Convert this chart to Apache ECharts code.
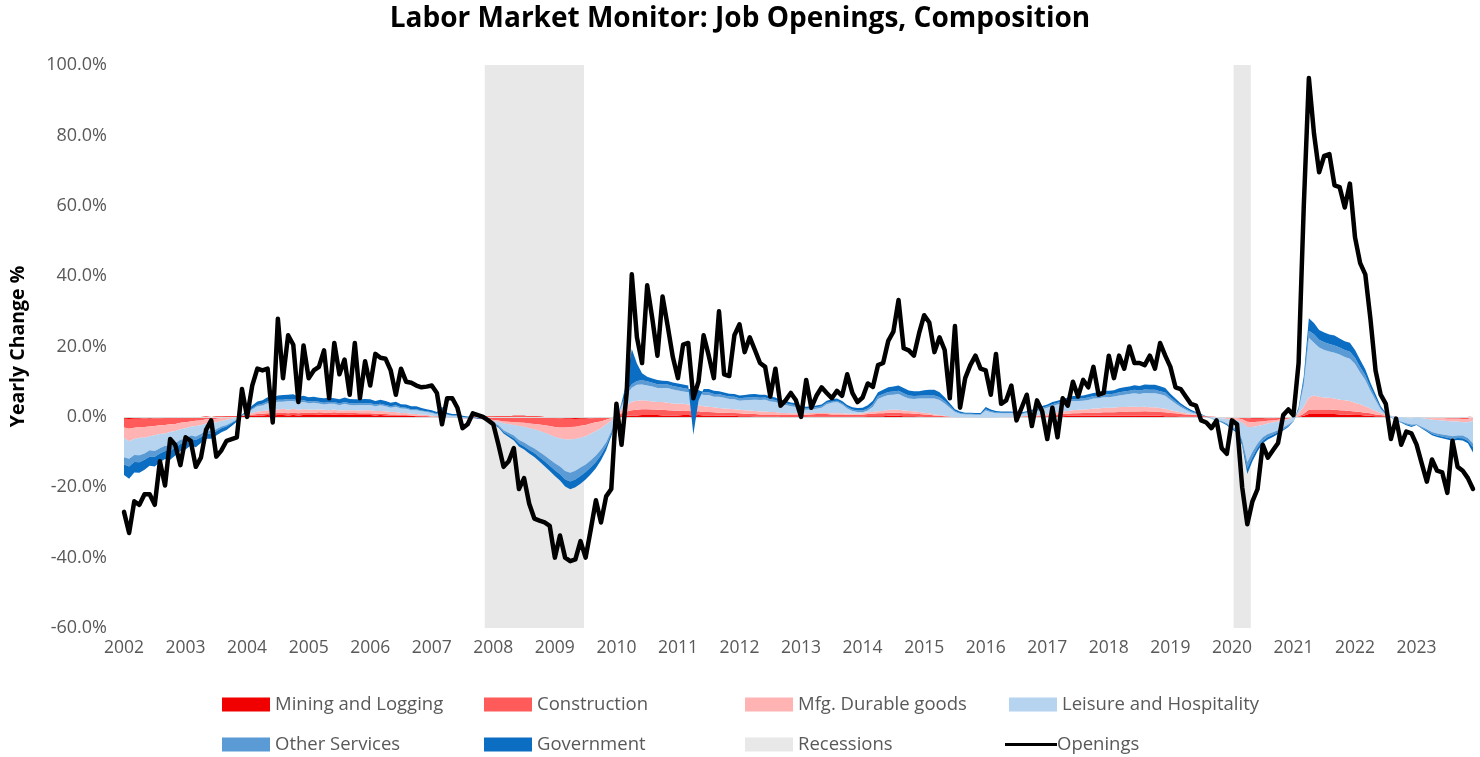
<!DOCTYPE html>
<html><head><meta charset="utf-8">
<script src="https://cdn.jsdelivr.net/npm/echarts@6/dist/echarts.min.js"></script>
<style>html,body{margin:0;padding:0;background:#fff}#c{width:1480px;height:757px}</style>
</head><body><div id="c"></div>
<script>
// ---------- DATA (monthly, Jan 2002 .. Dec 2023, yearly change %) ----------
const yearLabels = ['2002','2003','2004','2005','2006','2007','2008','2009','2010','2011','2012','2013','2014','2015','2016','2017','2018','2019','2020','2021','2022','2023'];
const monthLabels = ['01','02','03','04','05','06','07','08','09','10','11','12'];
const recessions = [['2007-12','2009-06'],['2020-02','2020-04']];

const openings = [
 [-27,-33,-24,-25,-22,-22,-25,-12.6,-19.5,-6.3,-8,-13.7],
 [-5.8,-6.8,-14.2,-11.6,-3.7,-1,-11.3,-9.5,-6.8,-6.3,-5.8,7.9],
 [0,8.9,13.7,13.2,13.7,-1.6,27.9,11,23.2,20.5,4.2,20.3],
 [11,13.2,14.2,18.9,5.3,21,12.1,16.3,6.3,21,5.3,15.8],
 [8.9,17.9,16.8,16.5,13.2,6.3,13.7,10,9.7,8.9,8.4,8.6],
 [8.9,6.8,-2.1,5.3,5.3,2.6,-3.2,-2.1,1,0.5,0,-1],
 [-2.1,-7.9,-14.2,-12.6,-8.9,-20.5,-17.4,-24.7,-28.9,-29.5,-30,-31],
 [-40,-33.7,-40,-41,-40.5,-35.3,-40,-32,-23.7,-30,-22.6,-20.5],
 [3.7,-7.9,6.8,40.5,22.6,15.3,37.4,27.9,17.4,34.2,25.8,17],
 [11,20.5,21,5.3,10,23.2,17.4,11,30,12.1,11.6,23.2],
 [26.3,18.4,22.6,19,15.3,14.2,5.8,13.7,3.2,4.7,6.8,4.7],
 [0,10.5,2.6,6,8.4,6.8,5.3,7.4,6,12.1,6.8,4.2],
 [5.5,9.5,8.5,14.7,15.3,21.6,24.2,33.2,19.5,18.9,17.4,23.7],
 [28.9,26.8,18.4,22.6,19,5.3,25.8,2.6,11,14.7,17.4,13.7],
 [13.2,6.3,17.9,3.7,4.7,8.9,-1,2.6,6.3,-2.6,4.7,1.6],
 [-6.3,2.6,-5.8,5.3,3.2,10,5.8,10.5,8.4,14.2,6.3,6.8],
 [17.4,11,17.4,13.7,20,15.3,15.3,14.7,17.4,13.7,21,17.4],
 [14.2,8.4,7.9,5.8,3.7,3.2,-1,-1.6,-3.2,-1,-8.9,-10.5],
 [-1,-2.1,-20,-30.5,-24,-20.5,-7.9,-11.6,-9.5,-7.4,0.5,2.1],
 [0.5,15.3,59.5,96.3,80.5,69.5,74.2,74.7,65.8,65.3,59.5,66.3],
 [51,43.7,40.5,27.9,13.2,6.3,3.7,-6.3,-0.5,-7.9,-4.2,-4.7],
 [-7.9,-13.2,-18.4,-12.1,-15.3,-15.8,-21.6,-6.8,-14.2,-15.3,-17.4,-20.5]
];

const mining = [
 [-0.5,-0.6,-0.5,-0.5,-0.4,-0.5,-0.4,-0.4,-0.3,-0.3,-0.3,-0.2],
 [-0.2,-0.1,-0.1,0,0.1,0,0.1,0.1,0.2,0.2,0.2,0.3],
 [0.3,0.3,0.4,0.4,0.5,0.4,0.5,0.5,0.4,0.5,0.4,0.5],
 [0.5,0.5,0.6,0.5,0.5,0.6,0.5,0.5,0.6,0.5,0.5,0.5],
 [0.5,0.4,0.5,0.4,0.4,0.4,0.3,0.3,0.3,0.2,0.2,0.2],
 [0.1,0.1,0.1,0,0,0.1,0,0,0.1,0.1,0.1,0.1],
 [0.1,0.2,0.2,0.2,0.3,0.3,0.3,0.2,0.2,0.1,0,-0.1],
 [-0.3,-0.4,-0.5,-0.5,-0.6,-0.5,-0.5,-0.4,-0.3,-0.3,-0.2,-0.1],
 [0.1,0.2,0.3,0.4,0.4,0.5,0.5,0.5,0.5,0.4,0.4,0.4],
 [0.4,0.5,0.5,0.4,0.5,0.4,0.4,0.4,0.3,0.3,0.3,0.3],
 [0.2,0.2,0.2,0.1,0.1,0.1,0.1,0.1,0,0,0,0],
 [0,0,0.1,0.1,0.1,0.1,0.1,0.1,0.1,0.1,0.1,0.1],
 [0.1,0.2,0.2,0.2,0.2,0.3,0.3,0.3,0.2,0.2,0.2,0.1],
 [0,-0.1,-0.2,-0.3,-0.3,-0.3,-0.3,-0.3,-0.3,-0.3,-0.3,-0.3],
 [-0.3,-0.3,-0.3,-0.2,-0.2,-0.2,-0.1,-0.1,0,0,0,0.1],
 [0.1,0.2,0.2,0.2,0.3,0.3,0.3,0.3,0.3,0.3,0.3,0.3],
 [0.3,0.3,0.3,0.3,0.3,0.3,0.3,0.3,0.3,0.3,0.3,0.2],
 [0.2,0.2,0.1,0.1,0.1,0.1,0,0,0,0,0,-0.1],
 [-0.1,-0.1,-0.2,-0.4,-0.5,-0.5,-0.5,-0.4,-0.4,-0.3,-0.3,-0.2],
 [-0.1,0,0.3,0.8,0.8,0.8,0.8,0.8,0.8,0.7,0.7,0.6],
 [0.5,0.5,0.4,0.3,0.2,0.2,0.1,0.1,0,0,0,0],
 [0,0,0,-0.1,-0.1,-0.1,-0.1,-0.1,-0.1,-0.1,-0.1,0.3]
];

const construction = [
 [-2.5,-2.8,-2.6,-2.4,-2.5,-2.2,-2.2,-2,-2,-1.8,-1.7,-1.5],
 [-1.3,-1.2,-1,-1,-0.8,-0.8,-0.6,-0.5,-0.4,-0.3,-0.2,0],
 [0.2,0.3,0.4,0.5,0.5,0.6,0.6,0.7,0.6,0.7,0.6,0.7],
 [0.7,0.6,0.7,0.7,0.6,0.7,0.6,0.6,0.5,0.6,0.5,0.5],
 [0.5,0.5,0.4,0.4,0.3,0.3,0.2,0.2,0.1,0.1,0,0],
 [-0.1,-0.2,-0.2,-0.3,-0.3,-0.4,-0.4,-0.5,-0.5,-0.6,-0.7,-0.8],
 [-1,-1.2,-1.5,-1.6,-1.8,-1.9,-2,-2.1,-2.2,-2.3,-2.4,-2.5],
 [-2.6,-2.6,-2.5,-2.4,-2.2,-2,-1.8,-1.5,-1.2,-1,-0.6,-0.2],
 [0.3,0.8,1.2,1.5,1.6,1.7,1.7,1.6,1.5,1.6,1.5,1.4],
 [1.3,1.3,1.2,1.2,1.1,1,1,0.9,0.9,0.9,0.8,0.8],
 [0.8,0.7,0.7,0.7,0.6,0.6,0.6,0.6,0.5,0.5,0.5,0.5],
 [0.5,0.6,0.6,0.7,0.7,0.7,0.6,0.6,0.6,0.5,0.5,0.5],
 [0.5,0.6,0.7,0.8,0.8,0.9,0.9,0.9,0.8,0.8,0.7,0.7],
 [0.7,0.7,0.6,0.6,0.5,0.4,0.3,0.3,0.3,0.3,0.3,0.3],
 [0.3,0.3,0.3,0.3,0.3,0.2,0.2,0.2,0.2,0.2,0.2,0.3],
 [0.3,0.4,0.5,0.6,0.6,0.7,0.7,0.8,0.8,0.9,0.9,1],
 [1,1,1.1,1.1,1.2,1.2,1.2,1.3,1.2,1.2,1.1,1.1],
 [0.9,0.8,0.7,0.6,0.5,0.4,0.3,0.2,0.1,0,-0.1,-0.1],
 [-0.2,-0.3,-0.5,-1,-1,-0.9,-0.8,-0.7,-0.6,-0.5,-0.4,-0.3],
 [-0.1,0.2,0.6,1.2,1.3,1.3,1.3,1.3,1.2,1.2,1.1,1.1],
 [1,0.9,0.8,0.7,0.5,0.3,0.2,0.1,0,0,-0.1,-0.1],
 [0,-0.1,-0.2,-0.3,-0.3,-0.3,-0.4,-0.4,-0.4,-0.5,-0.5,-0.4]
];

const durables = [
 [-3,-3.5,-3.2,-3,-3,-2.8,-2.6,-2.5,-2.4,-2.2,-2,-1.8],
 [-1.7,-1.5,-1.5,-1.4,-1.2,-1,-1,-0.8,-0.6,-0.4,-0.2,0],
 [0.3,0.5,0.7,0.8,0.9,1,1,1.1,1,1.1,1,1],
 [0.9,0.9,0.8,0.8,0.8,0.8,0.7,0.8,0.8,0.8,0.8,0.9],
 [0.9,0.8,0.8,0.8,0.7,0.7,0.6,0.6,0.5,0.5,0.4,0.4],
 [0.3,0.2,0.2,0.1,0.1,0,0,0,0,-0.1,-0.1,-0.2],
 [-0.3,-0.4,-0.5,-0.7,-0.8,-1,-1.1,-1.3,-1.5,-1.8,-2.1,-2.5],
 [-2.8,-3.1,-3.4,-3.5,-3.5,-3.4,-3.2,-2.9,-2.5,-2,-1.4,-0.8],
 [0.2,1,1.8,2.4,2.6,2.5,2.4,2.3,2.2,2.2,2.1,2],
 [2,1.9,1.8,1.8,1.7,1.6,1.5,1.4,1.3,1.2,1.2,1.1],
 [1,1,0.9,0.9,0.8,0.8,0.7,0.7,0.6,0.6,0.5,0.5],
 [0.4,0.4,0.4,0.3,0.3,0.3,0.3,0.3,0.3,0.3,0.3,0.3],
 [0.4,0.5,0.5,0.6,0.7,0.8,0.8,0.8,0.8,0.7,0.7,0.6],
 [0.5,0.4,0.3,0.2,0.1,0,-0.1,-0.1,-0.1,-0.1,-0.2,-0.2],
 [-0.2,-0.2,-0.2,-0.1,-0.1,0,0,0,0.1,0.1,0.2,0.3],
 [0.4,0.5,0.6,0.7,0.8,0.9,1,1,1.1,1.2,1.2,1.3],
 [1.3,1.3,1.4,1.4,1.4,1.4,1.3,1.3,1.2,1.2,1.1,1],
 [0.8,0.6,0.5,0.3,0.2,0.1,0,-0.1,-0.2,-0.3,-0.3,-0.4],
 [-0.5,-0.6,-0.9,-1.5,-1.4,-1.2,-1,-0.8,-0.6,-0.5,-0.3,-0.2],
 [0.1,0.8,2,3.5,4,3.6,3.4,3.3,3.2,3,2.9,2.8],
 [2.5,2.2,1.8,1.4,1,0.6,0.3,0.1,0,-0.1,-0.2,-0.3],
 [-0.1,-0.2,-0.3,-0.4,-0.5,-0.6,-0.7,-0.8,-0.8,-0.9,-0.9,-1]
];

const leisure = [
 [-5.5,-5,-4.5,-5,-4.5,-4,-4.5,-4,-3.5,-4,-3.5,-3],
 [-3,-2.5,-3,-2.5,-2,-2.2,-2,-1.5,-1.5,-1,-0.5,0],
 [0.5,1,1.5,1.5,2,1.8,2.2,2,2.5,2.2,2,2],
 [1.8,2,1.7,1.5,1.8,1.6,1.5,1.8,1.5,1.4,1.6,1.5],
 [1.5,1.3,1.6,1.4,1.2,1.5,1.3,1.2,1,1.1,1,0.8],
 [0.8,0.6,1.2,0.8,0.5,0.6,0.4,0.3,0.2,0.1,0,-0.2],
 [-0.5,-1,-2,-2.5,-3,-4,-4.5,-5,-5.5,-6,-6.5,-7],
 [-7.5,-8,-9,-9.5,-9,-8.5,-8,-7.5,-7,-6,-5,-3],
 [-1,1,3,4,4.5,4.5,4.3,4.2,4,4,4.2,4],
 [3.8,3.5,3.5,3.6,3.4,3.2,3.3,3,3.2,3,2.8,2.8],
 [2.6,2.8,3,3.2,3.3,3.4,3,2.8,2.5,2.3,2,1.8],
 [1.2,1,1,1.2,1.5,2.5,3,3.2,2.5,1.5,0.8,0.5],
 [0.3,0.5,1.5,3.5,4,4.2,4.3,4.5,4,3.5,3.5,3.8],
 [4,4.2,4.5,4.3,3.5,2.5,1.5,1,0.8,0.8,0.8,0.8],
 [2,1.5,1.2,1,1,1,0.8,0.7,0.8,1,1.2,1.5],
 [1.8,2,2.2,2.3,2.5,2.6,2.5,2.5,2.6,2.8,2.9,3],
 [3,3.2,3.3,3.5,3.6,3.8,3.7,3.9,4,4,3.9,3.7],
 [3,2.2,1.5,1,0.5,0.3,0.2,0,-0.3,-0.5,-0.8,-1.2],
 [-2,-2.5,-5,-10,-7,-5,-3.5,-3,-2.8,-2.5,-2,-1.5],
 [-1,1,6,17,15,14,13.5,13.2,13,12.8,12.3,12],
 [11,9,7.5,5,3,1,0,-0.5,-1,-1.2,-1.5,-1.8],
 [-2,-2.5,-3,-3.5,-3.8,-4,-4,-4.2,-4,-3.8,-4.5,-6.5]
];

const otherServices = [
 [-2,-2.2,-2,-2,-1.8,-1.8,-1.6,-1.5,-1.5,-1.4,-1.3,-1.2],
 [-1.1,-1,-1,-0.9,-0.8,-0.8,-0.6,-0.5,-0.4,-0.3,-0.2,0],
 [0.2,0.3,0.4,0.5,0.5,0.6,0.6,0.6,0.6,0.6,0.5,0.5],
 [0.5,0.5,0.5,0.5,0.5,0.5,0.5,0.5,0.5,0.5,0.5,0.5],
 [0.5,0.5,0.4,0.4,0.4,0.4,0.3,0.3,0.3,0.3,0.2,0.2],
 [0.2,0.2,0.1,0.1,0.1,0.1,0,0,0,0,0,-0.1],
 [-0.2,-0.3,-0.5,-0.6,-0.8,-1,-1.1,-1.2,-1.3,-1.5,-1.6,-1.8],
 [-2,-2.2,-2.4,-2.5,-2.5,-2.4,-2.2,-2,-1.8,-1.5,-1.1,-0.6],
 [0,0.5,0.8,1,1.1,1.2,1.2,1.1,1.1,1,1,1],
 [1,1,0.9,0.9,0.9,0.8,0.8,0.8,0.8,0.7,0.7,0.7],
 [0.7,0.7,0.7,0.7,0.6,0.6,0.6,0.6,0.5,0.5,0.5,0.5],
 [0.4,0.4,0.4,0.4,0.4,0.4,0.4,0.4,0.4,0.4,0.4,0.4],
 [0.5,0.6,0.7,0.8,0.8,0.9,0.9,0.9,0.9,0.9,0.8,0.8],
 [0.9,0.9,0.9,0.8,0.7,0.5,0.3,0.2,0.2,0.2,0.2,0.2],
 [0.4,0.3,0.3,0.2,0.2,0.2,0.2,0.2,0.2,0.3,0.3,0.4],
 [0.4,0.5,0.5,0.6,0.6,0.6,0.6,0.7,0.7,0.7,0.7,0.8],
 [0.8,0.8,0.9,0.9,0.9,1,1,1,1,1,0.9,0.9],
 [0.7,0.6,0.5,0.4,0.3,0.2,0.1,0,-0.1,-0.2,-0.2,-0.3],
 [-0.4,-0.5,-0.8,-1.8,-1.5,-1.2,-1,-0.8,-0.7,-0.6,-0.5,-0.4],
 [-0.2,0.2,1,2,2.4,2.2,2.2,2.1,2.1,2,2,2],
 [1.8,1.6,1.3,1,0.7,0.4,0.2,0,-0.1,-0.2,-0.3,-0.3],
 [-0.1,-0.3,-0.4,-0.5,-0.6,-0.6,-0.7,-0.7,-0.7,-0.8,-0.8,-1]
];

const government = [
 [-3,-3.5,-3,-3,-2.8,-2.6,-2.8,-2.5,-2.3,-2.5,-2.2,-2],
 [-2,-1.8,-2,-1.6,-1.5,-1.4,-1.2,-1.2,-1,-0.8,-0.5,0.3],
 [0.5,0.8,1,1,1.2,1.1,1.2,1.3,1.2,1.3,1.2,1.3],
 [1.2,1.2,1.1,1.3,1.2,1.1,1.2,1.3,1.2,1.2,1.1,1.2],
 [1.1,1,1.2,1.1,1,1,0.9,0.9,0.8,0.8,0.7,0.6],
 [0.6,0.5,1.5,0.5,0.4,0.4,0.3,0.3,0.2,0.2,0.1,0],
 [-0.2,-0.3,-0.4,-0.5,-0.6,-0.8,-0.9,-1,-1.1,-1.2,-1.4,-1.5],
 [-1.6,-1.8,-2,-2.2,-2.2,-2.2,-2.1,-2,-1.8,-1.5,-1.2,-0.8],
 [-0.3,0.5,3,10,5,2,1.3,1.2,1.2,1.1,1,1],
 [1,1,1,-13,-3,0.9,0.9,0.9,0.8,0.8,0.8,0.8],
 [0.8,0.8,0.9,0.9,0.9,0.8,0.8,0.7,0.7,0.6,0.6,0.6],
 [0.5,0.5,0.5,0.5,0.5,0.6,0.6,0.6,0.6,0.6,0.6,0.7],
 [0.8,0.9,1,1.1,1.2,1.3,1.4,1.5,1.5,1.4,1.4,1.3],
 [1.5,1.6,1.6,1.4,1.1,0.8,0.5,0.4,0.3,0.3,0.3,0.3],
 [0.6,0.5,0.4,0.3,0.3,0.3,0.3,0.3,0.3,0.4,0.4,0.5],
 [0.5,0.6,0.6,0.7,0.7,0.8,0.8,0.8,0.9,0.9,1,1],
 [1,1,1.1,1.2,1.2,1.3,1.3,1.4,1.4,1.4,1.4,1.3],
 [1,0.8,0.6,0.5,0.4,0.3,0.2,0.1,0,-0.1,-0.2,-0.3],
 [-0.4,-0.5,-0.7,-1.5,-1.2,-1,-0.8,-0.7,-0.6,-0.5,-0.4,-0.3],
 [0,0.5,1.5,3.5,3.2,2.8,2.8,2.7,2.8,2.6,2.5,2.6],
 [2.2,2,1.7,1.3,1,0.6,0.3,0.1,0,-0.2,-0.3,-0.4],
 [-0.1,-0.2,-0.3,-0.4,-0.4,-0.5,-0.5,-0.6,-0.6,-0.6,-0.7,-1.5]
];

// ---------- CHART ----------
const FONT = "'Open Sans', 'Noto Sans', sans-serif";
const GREY = '#595959';
const REC = '#e8e8e8';
const months = yearLabels.flatMap(y => monthLabels.map(m => y + '-' + m));
const inRecession = m => recessions.some(([a, b]) => m >= a && m <= b);
const recTop = months.map(m => inRecession(m) ? 100 : '-');
const recBottom = months.map(m => inRecession(m) ? -60 : '-');

const components = [
  { name: 'Mining and Logging', data: mining, color: '#f00000' },
  { name: 'Construction', data: construction, color: '#ff5b5b' },
  { name: 'Mfg. Durable goods', data: durables, color: '#ffb3b3' },
  { name: 'Leisure and Hospitality', data: leisure, color: '#b6d4ef' },
  { name: 'Other Services', data: otherServices, color: '#5b9bd5' },
  { name: 'Government', data: government, color: '#0b6ec2' }
];

const recStyle = { color: REC };
const series = [
  { name: 'Recessions', type: 'bar', data: recTop, z: 1, barWidth: '135%', barGap: '-100%',
    itemStyle: recStyle, silent: true,
    markLine: { silent: true, symbol: 'none', label: { show: false },
      lineStyle: { color: '#d9d9d9', width: 1, type: 'solid' }, data: [{ yAxis: 0 }] } },
  { name: 'Recessions', type: 'bar', data: recBottom, z: 1, barWidth: '135%', barGap: '-100%',
    itemStyle: recStyle, silent: true }
];
components.forEach((c, k) => series.push({
  name: c.name, type: 'line', stack: 'comp', stackStrategy: 'all',
  data: c.data.flat(), symbol: 'none', z: 2 + k,
  itemStyle: { color: c.color },
  lineStyle: { width: 0, color: c.color },
  areaStyle: { color: c.color, opacity: 1 }
}));
series.push({
  name: 'Openings', type: 'line', data: openings.flat(), symbol: 'none', z: 20,
  itemStyle: { color: '#000' },
  lineStyle: { width: 4.5, color: '#000', join: 'round', cap: 'round' }
});

const LINE_ICON = 'path://M0,0L0.01,0M0,5.5H52V8.5H0Z M52,14L51.99,14';
const legendItems = [
  ['Mining and Logging', 222, 695, 'rect'], ['Construction', 484, 695, 'rect'],
  ['Mfg. Durable goods', 745, 695, 'rect'], ['Leisure and Hospitality', 1009, 695, 'rect'],
  ['Other Services', 222, 735, 'rect'], ['Government', 484, 735, 'rect'],
  ['Recessions', 745, 735, 'rect'], ['Openings', 1005, 735, LINE_ICON]
];
const legends = legendItems.map(([name, left, top, icon]) => ({
  data: [{ name, icon }], left, top,
  itemWidth: icon === 'rect' ? 48 : 52, itemHeight: 14,
  selectedMode: false, padding: 0, itemGap: 0,
  textStyle: { fontFamily: FONT, fontSize: 18.5, color: GREY, padding: [0, 0, 0, icon === 'rect' ? 0 : -5] }
}));

const chart = echarts.init(document.getElementById('c'), null, { renderer: 'canvas' });
chart.setOption({
  backgroundColor: '#fff',
  animation: false,
  title: {
    text: 'Labor Market Monitor: Job Openings, Composition', left: 'center', top: 0,
    textStyle: { fontFamily: FONT, fontWeight: 'bold', fontSize: 28, color: '#000' }
  },
  legend: legends,
  grid: { left: 124, right: 7, top: 65, bottom: 129 },
  xAxis: {
    type: 'category', data: months, boundaryGap: false,
    axisLine: { show: false, onZero: false }, axisTick: { show: false }, splitLine: { show: false },
    axisLabel: {
      fontFamily: FONT, fontSize: 17.5, color: GREY, margin: 11,
      interval: (idx) => idx % 12 === 0,
      formatter: v => v.slice(0, 4)
    }
  },
  yAxis: {
    type: 'value', min: -60, max: 100, interval: 20,
    axisLine: { show: false }, axisTick: { show: false }, splitLine: { show: false },
    axisLabel: { fontFamily: FONT, fontSize: 18, color: GREY, margin: 17, formatter: v => v.toFixed(1) + '%' },
    name: 'Yearly Change %', nameLocation: 'middle', nameGap: 96,
    nameTextStyle: { fontFamily: FONT, fontWeight: 'bold', fontSize: 19.5, color: '#000' }
  },
  series
});
</script></body></html>
